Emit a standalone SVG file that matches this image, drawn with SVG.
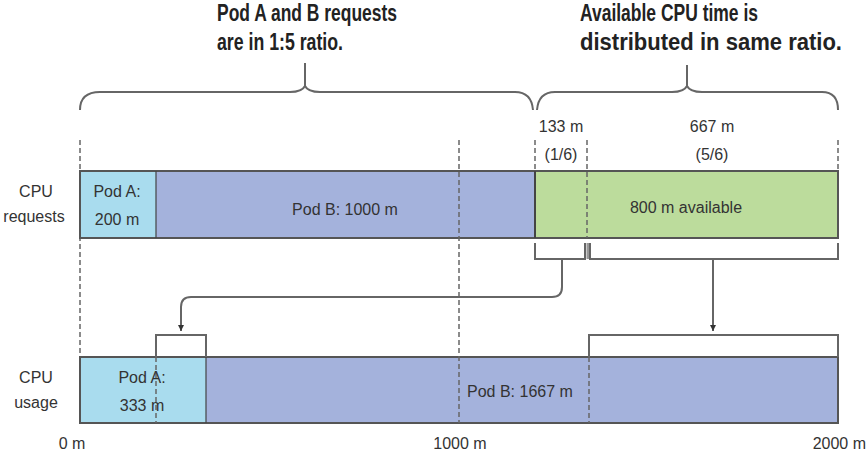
<svg xmlns="http://www.w3.org/2000/svg" width="866" height="453" viewBox="0 0 866 453">
<defs>
<style>
.t{font-family:"Liberation Sans",Arial,sans-serif;font-size:16px;fill:#333}
.h{font-family:"Liberation Sans",Arial,sans-serif;font-size:23px;font-weight:bold;fill:#222}
.dash{stroke:#666;stroke-width:1.5;stroke-dasharray:5 3;fill:none}
.ln{stroke:#666;stroke-width:2;fill:none}
.bar{stroke:#555;stroke-width:2}
.sep{stroke:#444;stroke-width:1.2}
</style>
<marker id="arr" viewBox="0 0 10 10" refX="10" refY="5" markerWidth="6" markerHeight="6" orient="auto" markerUnits="userSpaceOnUse">
<path d="M0,0 L10,5 L0,10 z" fill="#333"/>
</marker>
</defs>
<rect width="866" height="453" fill="#fff"/>

<g id="titles">
<text class="h" x="217" y="21" textLength="180" lengthAdjust="spacingAndGlyphs">Pod A and B requests</text>
<text class="h" x="217" y="50" textLength="126" lengthAdjust="spacingAndGlyphs">are in 1:5 ratio.</text>
<text class="h" x="580" y="21" textLength="178" lengthAdjust="spacingAndGlyphs">Available CPU time is</text>
<text class="h" x="580" y="50" textLength="262" lengthAdjust="spacingAndGlyphs">distributed in same ratio.</text>
</g>

<g id="braces">
<path class="ln" d="M80,110 C80,98 86,92 100,92 L290,92 C298,92 303,90 305,86 C307,90 312,92 320,92 L515,92 C526,92 532,98 533,110"/>
<path class="ln" d="M305,86 V63"/>
<path class="ln" d="M537,110 C538,98 544,92 555,92 L672,92 C680,92 685,90 687,86 C689,90 694,92 702,92 L822,92 C832,92 838,98 838,110"/>
<path class="ln" d="M687,86 V65"/>
</g>

<g id="gridlines">
<line class="dash" x1="80" y1="140" x2="80" y2="357"/>
<line class="dash" x1="535" y1="140" x2="535" y2="171"/>
<line class="dash" x1="838" y1="140" x2="838" y2="171"/>
</g>

<g id="requests-bar">
<rect x="80" y="171" width="76" height="67" fill="#a9dcee"/>
<rect x="156" y="171" width="379" height="67" fill="#a4b2dc"/>
<rect x="535" y="171" width="303" height="67" fill="#bcdc9c"/>
<rect class="bar" x="80" y="171" width="758" height="67" fill="none"/>
<line class="sep" x1="156" y1="171" x2="156" y2="238"/>
<line class="sep" x1="535" y1="171" x2="535" y2="238" style="stroke-width:2"/>
</g>

<g id="usage-bar">
<rect x="80" y="357" width="126" height="66" fill="#a9dcee"/>
<rect x="206" y="357" width="632" height="66" fill="#a4b2dc"/>
<rect class="bar" x="80" y="357" width="758" height="66" fill="none"/>
<line class="sep" x1="206" y1="357" x2="206" y2="423"/>
</g>

<g id="overlay-dashes">
<line class="dash" x1="459" y1="140" x2="459" y2="423"/>
<line class="dash" x1="587" y1="140" x2="587" y2="238"/>
<line class="dash" x1="156" y1="357" x2="156" y2="423"/>
<line class="dash" x1="589" y1="357" x2="589" y2="423"/>
</g>

<g id="labels">
<text class="t" x="561" y="132" text-anchor="middle">133 m</text>
<text class="t" x="561" y="160" text-anchor="middle">(1/6)</text>
<text class="t" x="712" y="132" text-anchor="middle">667 m</text>
<text class="t" x="712" y="160" text-anchor="middle">(5/6)</text>
<text class="t" x="36" y="197" text-anchor="middle">CPU</text>
<text class="t" x="34" y="222" text-anchor="middle">requests</text>
<text class="t" x="36" y="383" text-anchor="middle">CPU</text>
<text class="t" x="36" y="408" text-anchor="middle">usage</text>
<text class="t" x="117" y="197" text-anchor="middle">Pod A:</text>
<text class="t" x="117" y="225" text-anchor="middle">200 m</text>
<text class="t" x="345" y="215" text-anchor="middle">Pod B: 1000 m</text>
<text class="t" x="686" y="213" text-anchor="middle">800 m available</text>
<text class="t" x="142" y="383" text-anchor="middle">Pod A:</text>
<text class="t" x="142" y="411" text-anchor="middle">333 m</text>
<text class="t" x="467" y="397">Pod B: 1667 m</text>
<text class="t" x="72" y="449" text-anchor="middle">0 m</text>
<text class="t" x="460" y="449" text-anchor="middle">1000 m</text>
<text class="t" x="866" y="449" text-anchor="end">2000 m</text>
</g>

<g id="connectors">
<path class="ln" d="M535,243 V259 H585 V243"/>
<path d="M588,243 V259" stroke="#999" stroke-width="3"/>
<path class="ln" d="M590,243 V259 H838 V243"/>
<path class="ln" d="M156,357 V335 H206 V357"/>
<path class="ln" d="M589,357 V335 H838 V357"/>
<path class="ln" d="M562,259 V287 Q562,297 552,297 H191 Q181,297 181,307 V331" marker-end="url(#arr)"/>
<path class="ln" d="M713,259 V331" marker-end="url(#arr)"/>
</g>
</svg>
